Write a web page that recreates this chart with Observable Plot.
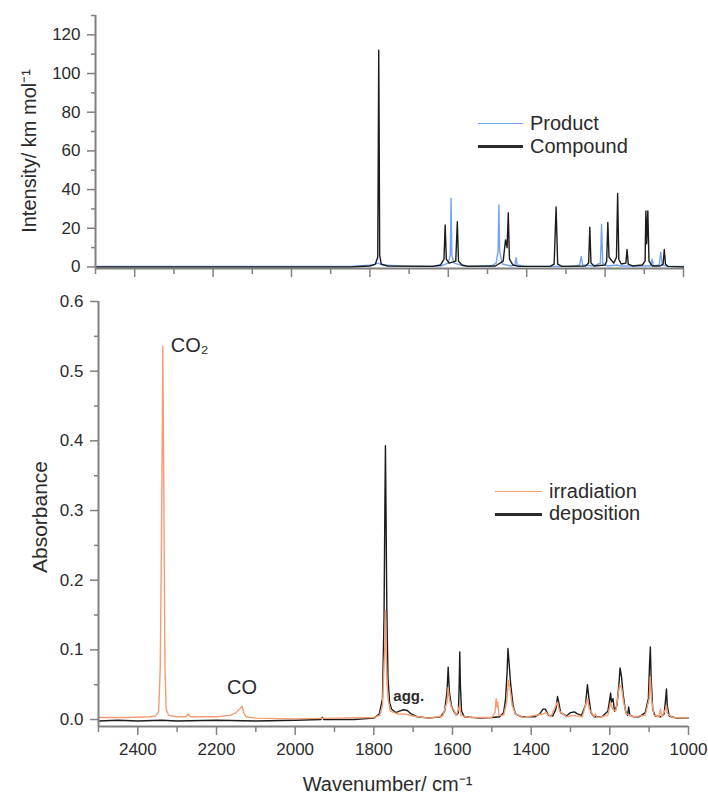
<!DOCTYPE html>
<html><head><meta charset="utf-8">
<script src="https://cdn.jsdelivr.net/npm/d3@7"></script>
<script src="https://cdn.jsdelivr.net/npm/@observablehq/plot@0.6"></script>
<style>
body{margin:0;background:#fff;font-family:"Liberation Sans",Arial,sans-serif;}
#wrap{position:relative;width:708px;height:794px;overflow:hidden;}
#wrap svg{display:block;}
.lt{position:absolute;font-size:20px;line-height:20px;color:#2b2b2b;white-space:nowrap;}
.ls{position:absolute;height:0;}
</style></head><body><div id="wrap"></div>
<script>
// ---- Data ----
// Calculated spectra (top): [wavenumber cm^-1, intensity km/mol]
const compound = [[2500,0],[1850,0],[1800,0.5],[1786,1.5],[1780,5],[1778.5,64],[1777.5,112],[1776.5,76],[1775,6],[1771,1.5],[1755,0.5],[1640,0.3],[1620,1],[1611,4],[1608,21.7],[1605,4],[1598,2],[1581,3],[1577,23.4],[1574,3],[1565,1],[1550,0.3],[1480,0.5],[1460,3],[1454,14],[1450,10],[1447,28],[1444,4],[1435,1],[1420,0.3],[1340,0.3],[1330,1.5],[1325,31],[1321,1.5],[1310,0.3],[1250,0.5],[1242,2],[1239,20.5],[1236,2],[1228,0.5],[1200,1],[1196,3],[1193,23],[1190,5],[1178,2],[1171,5],[1168,38],[1165,4],[1159,1.5],[1147,2],[1144,9],[1141,1.5],[1130,0.5],[1105,1],[1098,3],[1096,29],[1094,12],[1091,29],[1088,3],[1080,0.5],[1060,0.5],[1052,1.5],[1049,9],[1046,1.5],[1040,0.3],[1000,0]];
const product = [[2500,0.3],[1850,0.3],[1792,1],[1780,2],[1768,1],[1700,0.3],[1620,0.5],[1600,2],[1595,6],[1593,35.5],[1591,6],[1585,2],[1560,0.5],[1490,0.5],[1478,2],[1473,8],[1471,32],[1469,8],[1462,1.5],[1440,0.5],[1430,1],[1427,4.8],[1424,1],[1400,0.3],[1280,0.3],[1265,1],[1261,5.3],[1257,1],[1230,0.5],[1212,2],[1209,22],[1206,2],[1195,0.5],[1170,1],[1160,0.5],[1085,0.5],[1080,4],[1077,0.5],[1062,1],[1058,7.6],[1054,1],[1040,0.3],[1000,0.3]];
// Matrix-isolation IR (bottom): [wavenumber cm^-1, absorbance]
const deposition = [[2500,-0.002],[2450,-0.001],[2400,-0.002],[2340,-0.001],[2300,-0.002],[2200,-0.001],[2100,-0.002],[2000,-0.001],[1935,0],[1931,0.003],[1927,0],[1850,0],[1800,0.002],[1786,0.008],[1778,0.03],[1774,0.15],[1772,0.3],[1770.5,0.393],[1769,0.3],[1767,0.16],[1764,0.06],[1760,0.025],[1755,0.015],[1745,0.01],[1735,0.012],[1725,0.014],[1715,0.013],[1705,0.008],[1690,0.004],[1660,0.002],[1630,0.004],[1620,0.012],[1614,0.04],[1611,0.075],[1608,0.04],[1603,0.02],[1597,0.012],[1590,0.006],[1585,0.01],[1583,0.05],[1581.5,0.097],[1580,0.05],[1577,0.012],[1570,0.004],[1530,0.002],[1500,0.003],[1480,0.004],[1470,0.01],[1465,0.03],[1461,0.07],[1459,0.102],[1456,0.08],[1452,0.05],[1446,0.02],[1440,0.008],[1425,0.004],[1390,0.004],[1378,0.008],[1370,0.015],[1364,0.015],[1356,0.006],[1345,0.005],[1337,0.015],[1333,0.033],[1330,0.025],[1325,0.01],[1310,0.005],[1300,0.01],[1290,0.011],[1282,0.008],[1272,0.006],[1262,0.02],[1257,0.05],[1253,0.03],[1248,0.01],[1240,0.004],[1220,0.004],[1205,0.012],[1200,0.03],[1198,0.038],[1196,0.025],[1192,0.03],[1188,0.012],[1182,0.02],[1177,0.05],[1174,0.074],[1170,0.06],[1166,0.035],[1160,0.012],[1155,0.006],[1152,0.018],[1149,0.006],[1140,0.004],[1125,0.004],[1110,0.01],[1102,0.03],[1099,0.08],[1097,0.104],[1095,0.06],[1091,0.015],[1085,0.005],[1070,0.004],[1062,0.008],[1058,0.03],[1056,0.044],[1054,0.02],[1049,0.005],[1030,0.002],[1000,0.002]];
const irradiation = [[2500,0.003],[2420,0.003],[2370,0.004],[2355,0.005],[2347,0.012],[2343,0.075],[2340,0.25],[2338,0.406],[2336.5,0.536],[2335,0.406],[2333,0.25],[2331,0.075],[2328,0.015],[2322,0.006],[2300,0.004],[2278,0.004],[2272,0.008],[2266,0.004],[2200,0.004],[2165,0.006],[2150,0.01],[2140,0.016],[2135,0.019],[2131,0.01],[2125,0.004],[2100,0.002],[2000,0.001],[1900,0.002],[1800,0.003],[1785,0.006],[1778,0.02],[1774,0.08],[1772,0.104],[1770.5,0.157],[1769,0.104],[1767,0.06],[1764,0.03],[1758,0.012],[1740,0.008],[1720,0.008],[1700,0.005],[1660,0.002],[1625,0.005],[1614,0.025],[1611,0.046],[1608,0.03],[1603,0.018],[1598,0.015],[1590,0.006],[1582,0.02],[1578,0.006],[1560,0.003],[1500,0.003],[1492,0.01],[1489,0.03],[1487,0.018],[1485,0.025],[1482,0.006],[1470,0.006],[1462,0.025],[1458,0.056],[1454,0.045],[1448,0.02],[1440,0.008],[1420,0.003],[1370,0.008],[1362,0.01],[1350,0.004],[1333,0.025],[1328,0.012],[1310,0.004],[1295,0.006],[1270,0.004],[1257,0.03],[1252,0.015],[1240,0.004],[1237,0.008],[1232,0.003],[1205,0.006],[1198,0.025],[1193,0.015],[1185,0.012],[1175,0.05],[1170,0.045],[1165,0.025],[1158,0.008],[1140,0.004],[1110,0.006],[1100,0.03],[1097,0.061],[1094,0.03],[1088,0.006],[1075,0.004],[1071,0.015],[1068,0.004],[1058,0.015],[1056,0.02],[1053,0.008],[1040,0.003],[1000,0.002]];

// Ticks
const xMajor = [2400,2200,2000,1800,1600,1400,1200,1000];
const xMinor = [2500,2300,2100,1900,1700,1500,1300,1100];
const intMajor = [0,20,40,60,80,100,120];
const intMinor = [10,30,50,70,90,110,130];
const absMajor = [0,0.1,0.2,0.3,0.4,0.5,0.6];
const absMinor = [0.05,0.15,0.25,0.35,0.45,0.55];

// Annotations [wavenumber, absorbance, text]
const annCO2 = [[2336.5,0.536,"CO₂"]];
const annCO = [[2135,0.019,"CO"]];
const annAgg = [[1725,0.014,"agg."]];

const FONT = '"Liberation Sans", Arial, sans-serif';
const AX = "#808080", TXT = "#2b2b2b";
const C_BLACK = "#1c1c1c", C_BLUE = "#74a3f4", C_ORANGE = "#f59d72";

const wrap = document.getElementById("wrap");

const topPlot = Plot.plot({
  width: 708, height: 285,
  marginTop: 15, marginBottom: 17, marginLeft: 95, marginRight: 25,
  style: {fontFamily: FONT, fontSize: "17px", color: TXT, background: "white"},
  x: {domain: [2500, 1000]},
  y: {domain: [-0.8, 130]},
  marks: [
    Plot.line(product, {x: d => d[0], y: d => d[1], stroke: C_BLUE, strokeWidth: 1.4}),
    Plot.line(compound, {x: d => d[0], y: d => d[1], stroke: C_BLACK, strokeWidth: 1.4}),
    Plot.axisX({ticks: xMajor, tickSize: 9, tickFormat: () => "", label: null, stroke: AX, strokeWidth: 1.5}),
    Plot.axisX({ticks: xMinor, tickSize: 6, tickFormat: () => "", label: null, stroke: AX, strokeWidth: 1.5}),
    Plot.axisY({ticks: intMajor, tickSize: 8, tickPadding: 7, tickFormat: d3.format("d"), label: null, stroke: AX, fill: TXT, strokeWidth: 1.5}),
    Plot.axisY({ticks: intMinor, tickSize: 4, tickFormat: () => "", label: null, stroke: AX, strokeWidth: 1.5}),
    Plot.ruleY([-0.8], {stroke: AX, strokeWidth: 2}),
    Plot.ruleX([2500], {stroke: AX, strokeWidth: 2}),
    Plot.text(["Intensity/ km mol⁻¹"], {frameAnchor: "left", textAnchor: "middle", text: d => d, rotate: -90, dx: -66, dy: 9, fontSize: 20, fill: TXT})
  ]
});

const bottomPlot = Plot.plot({
  width: 708, height: 509,
  marginTop: 16, marginBottom: 68, marginLeft: 98, marginRight: 20,
  style: {fontFamily: FONT, fontSize: "17px", color: TXT, background: "white"},
  x: {domain: [2500, 1000]},
  y: {domain: [-0.01, 0.6]},
  marks: [
    Plot.line(deposition, {x: d => d[0], y: d => d[1], stroke: C_BLACK, strokeWidth: 1.4}),
    Plot.line(irradiation, {x: d => d[0], y: d => d[1], stroke: C_ORANGE, strokeWidth: 1.4}),
    Plot.axisX({ticks: xMajor, tickSize: 9, tickPadding: 7, tickFormat: d3.format("d"), label: null, stroke: AX, fill: TXT, strokeWidth: 1.5}),
    Plot.axisX({ticks: xMinor, tickSize: 6, tickFormat: () => "", label: null, stroke: AX, strokeWidth: 1.5}),
    Plot.axisY({ticks: absMajor, tickSize: 8, tickPadding: 7, tickFormat: d3.format(".1f"), label: null, stroke: AX, fill: TXT, strokeWidth: 1.5}),
    Plot.axisY({ticks: absMinor, tickSize: 4, tickFormat: () => "", label: null, stroke: AX, strokeWidth: 1.5}),
    Plot.ruleY([-0.01], {stroke: AX, strokeWidth: 2}),
    Plot.ruleX([2500], {stroke: AX, strokeWidth: 2}),
    Plot.text(annCO2, {x: d => d[0], y: d => d[1], text: d => d[2], textAnchor: "start", dx: 8, fontSize: 20, fill: TXT}),
    Plot.text(annCO, {x: d => d[0], y: d => d[1], text: d => d[2], lineAnchor: "bottom", dy: -12, fontSize: 20, fill: TXT}),
    Plot.text(annAgg, {x: d => d[0], y: d => d[1], text: d => d[2], textAnchor: "start", lineAnchor: "bottom", dx: -10, dy: -9, fontSize: 15, fontWeight: "bold", fill: TXT}),
    Plot.text(["Absorbance"], {frameAnchor: "left", textAnchor: "middle", text: d => d, rotate: -90, dx: -58, dy: 3, fontSize: 21, fill: TXT}),
    Plot.text(["Wavenumber/ cm⁻¹"], {frameAnchor: "bottom", textAnchor: "middle", text: d => d, lineAnchor: "bottom", dx: -6, dy: 64, fontSize: 20, fill: TXT})
  ]
});

wrap.appendChild(topPlot);
wrap.appendChild(bottomPlot);

// Legends (HTML overlay)
const legends = [
  {label: "Product", color: C_BLUE, w: 1.5, x1: 478, x2: 523, ly: 124, tx: 530, ty: 113},
  {label: "Compound", color: "#2a2a2a", w: 3, x1: 478, x2: 523, ly: 146, tx: 530, ty: 136},
  {label: "irradiation", color: C_ORANGE, w: 1.5, x1: 495, x2: 542, ly: 492, tx: 549, ty: 481},
  {label: "deposition", color: "#2a2a2a", w: 3, x1: 495, x2: 542, ly: 514, tx: 549, ty: 503}
];
for (const l of legends) {
  const s = document.createElement("div");
  s.className = "ls";
  s.style.left = l.x1 + "px";
  s.style.width = (l.x2 - l.x1) + "px";
  s.style.top = (l.ly - l.w / 2) + "px";
  s.style.borderTop = l.w + "px solid " + l.color;
  wrap.appendChild(s);
  const t = document.createElement("div");
  t.className = "lt";
  t.style.left = l.tx + "px";
  t.style.top = l.ty + "px";
  t.textContent = l.label;
  wrap.appendChild(t);
}
</script></body></html>
